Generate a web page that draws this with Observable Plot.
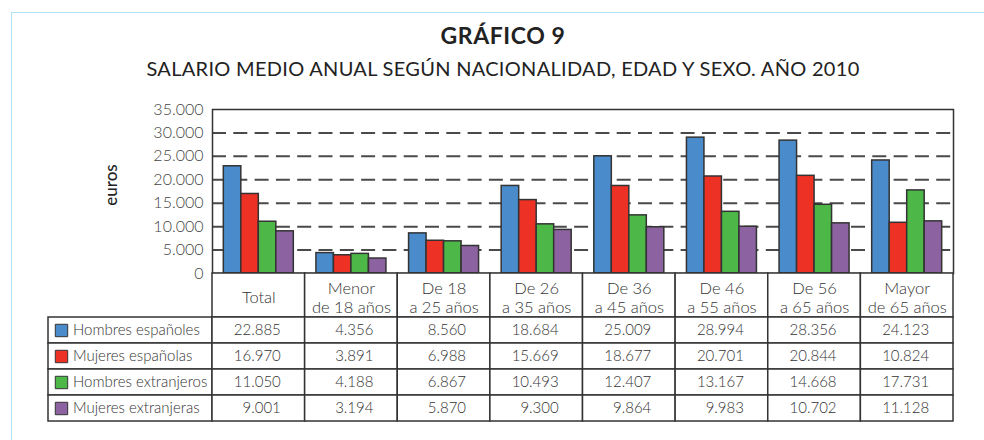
<!DOCTYPE html>
<html><head><meta charset="utf-8">
<script src="https://cdn.jsdelivr.net/npm/d3@7"></script>
<script src="https://cdn.jsdelivr.net/npm/@observablehq/plot@0.6"></script>
<style>
body{margin:0;background:#fff;}
#wrap{position:relative;width:984px;height:440px;overflow:hidden;font-family:Lato,sans-serif;background:#fff;}
#border{position:absolute;left:11px;top:12px;width:1000px;height:500px;border-left:1px solid #aee3f7;border-top:1px solid #aee3f7;}
.t{position:absolute;left:0;width:1006px;text-align:center;color:#222;line-height:1;white-space:nowrap;}
#title{top:24px;font-size:23px;font-weight:700;letter-spacing:0.6px;}
#subtitle{top:58.3px;font-size:20px;font-weight:400;letter-spacing:0.3px;}
.p{position:absolute;left:0;}
svg{overflow:visible;}
</style></head><body>
<div id="wrap">
<div id="border"></div>
<div class="t" id="title">GRÁFICO 9</div>
<div class="t" id="subtitle">SALARIO MEDIO ANUAL SEGÚN NACIONALIDAD, EDAD Y SEXO. AÑO 2010</div>
<div class="p" id="chart" style="top:90px"></div>
<div class="p" id="header" style="top:273px"></div>
<div class="p" id="table" style="top:317px"></div>
</div>
<script>
const categories = ["Total","Menor\nde 18 años","De 18\na 25 años","De 26\na 35 años","De 36\na 45 años","De 46\na 55 años","De 56\na 65 años","Mayor\nde 65 años"];
const series = ["Hombres españoles","Mujeres españolas","Hombres extranjeros","Mujeres extranjeras"];
const hombresEspanoles = [22885,4356,8560,18684,25009,28994,28356,24123];
const mujeresEspanolas = [16970,3891,6988,15669,18677,20701,20844,10824];
const hombresExtranjeros = [11050,4188,6867,10493,12407,13167,14668,17731];
const mujeresExtranjeras = [9001,3194,5870,9300,9864,9983,10702,11128];
const yTicks = [0,5000,10000,15000,20000,25000,30000,35000];
const colors = ["#4a8ccb","#ee3125","#4db748","#8c62a0"];

const seriesValues = [hombresEspanoles,mujeresEspanolas,hombresExtranjeros,mujeresExtranjeras];
const rows = series.flatMap((s,j)=>categories.map((c,i)=>({cat:c,series:s,value:seriesValues[j][i]})));
const fmt = v => d3.format(",")(v).replace(/,/g,".");

const W=984, ML=212, MR=31;
const bw = (W-ML-MR)/categories.length;
const slot = 17.5;
const grp = (bw-4*slot)/2;
const xScale = {domain:categories, padding:0, round:false, axis:null};
const colorScale = {domain:series, range:colors};
const baseStyle = {fontFamily:"Lato, sans-serif", fontSize:"16px", fontWeight:300, color:"#444", background:"transparent", overflow:"visible"};

const chart = Plot.plot({
  width:W, height:184, marginTop:19, marginBottom:1, marginLeft:ML, marginRight:MR,
  style:baseStyle,
  x:xScale,
  y:{domain:[0,35000], ticks:yTicks, tickSize:0, tickPadding:9, tickFormat:fmt, label:null},
  color:colorScale,
  marks:[
    Plot.ruleY(yTicks.filter(v=>v>0&&v<35000), {stroke:"#4a4a4a", strokeWidth:2, strokeDasharray:"14,7.3"}),
    ...series.map((s,j)=>Plot.barY(rows.filter(d=>d.series===s), {
      x:"cat", y:"value", fill:"series", stroke:"#333", strokeWidth:1.5,
      insetLeft:grp+j*slot, insetRight:bw-grp-(j+1)*slot
    })),
    Plot.frame({stroke:"#333", strokeWidth:1.5}),
    Plot.text(["euros"], {frameAnchor:"left", textAnchor:"middle", dx:-100.5, dy:-6.5, rotate:-90, fontSize:17, fill:"#222", fontWeight:500})
  ]
});
document.getElementById("chart").appendChild(chart);

const header = Plot.plot({
  width:W, height:44, marginTop:0, marginBottom:0, marginLeft:ML, marginRight:MR,
  style:baseStyle,
  x:xScale,
  marks:[
    Plot.cell(categories, {x:d=>d, fill:"white", stroke:"#333", strokeWidth:1.5}),
    Plot.text(categories, {x:d=>d, text:d=>d, frameAnchor:"middle", dy:1.5, fontSize:16.5, fill:"#333", lineHeight:1.18})
  ]
});
document.getElementById("header").appendChild(header);

const table = Plot.plot({
  width:W, height:104, marginTop:0, marginBottom:0, marginLeft:ML, marginRight:MR,
  style:baseStyle,
  x:xScale,
  y:{domain:series, padding:0, round:false, axis:null},
  color:colorScale,
  marks:[
    Plot.cell(series, {y:d=>d, x:()=>categories[0], insetLeft:-164, insetRight:bw, fill:"white", stroke:"#333", strokeWidth:1.5}),
    Plot.cell(rows, {x:"cat", y:"series", fill:"white", stroke:"#333", strokeWidth:1.5}),
    Plot.dot(series, {y:d=>d, frameAnchor:"left", dx:-151, symbol:"square", r:7, fill:d=>d, stroke:"#333", strokeWidth:1}),
    Plot.text(series, {y:d=>d, text:d=>d, frameAnchor:"left", dx:-139.5, textAnchor:"start", fontSize:15, fill:"#333"}),
    Plot.text(rows, {x:"cat", y:"series", text:d=>fmt(d.value), textAnchor:"end", dx:22, fontSize:15, fill:"#333"})
  ]
});
document.getElementById("table").appendChild(table);
</script>
</body></html>
